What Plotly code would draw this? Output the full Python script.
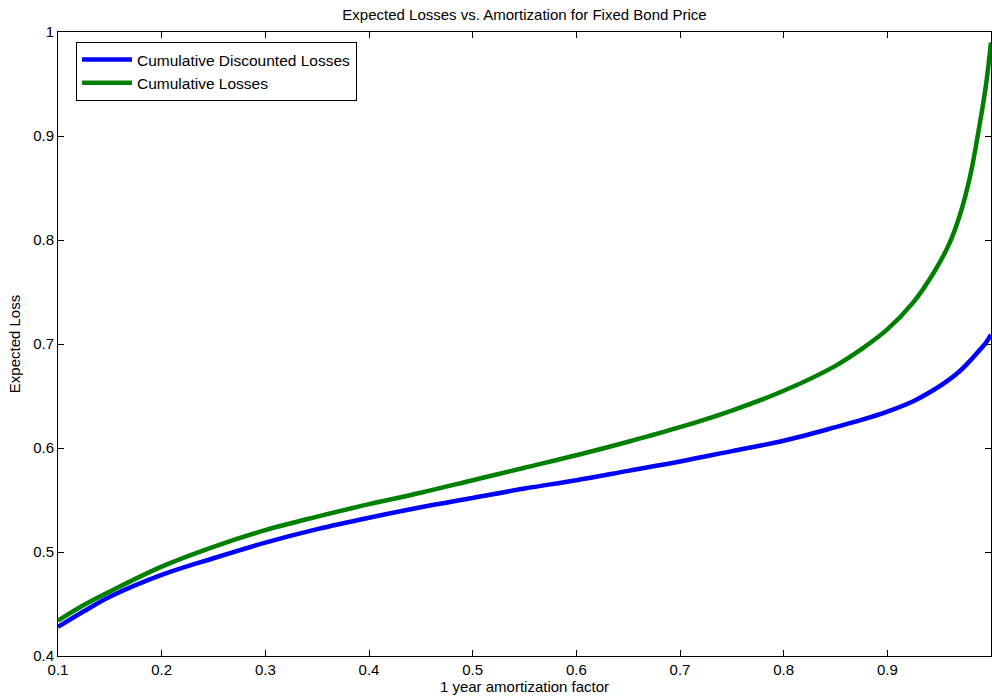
import plotly.graph_objects as go

amort = [0.10, 0.125, 0.15, 0.20, 0.25, 0.30, 0.35, 0.40, 0.45, 0.50, 0.55, 0.60,
         0.65, 0.70, 0.75, 0.80, 0.85, 0.875, 0.90, 0.925, 0.945, 0.96, 0.97,
         0.98, 0.988, 0.995, 1.00]
cum_losses = [0.434, 0.449, 0.462, 0.486, 0.505, 0.521, 0.534, 0.546, 0.557, 0.569,
              0.581, 0.593, 0.606, 0.620, 0.636, 0.655, 0.679, 0.695, 0.714, 0.740,
              0.769, 0.797, 0.824, 0.862, 0.905, 0.948, 0.990]
cum_disc_losses = [0.428, 0.443, 0.457, 0.478, 0.494, 0.509, 0.522, 0.533, 0.543,
                   0.552, 0.561, 0.569, 0.578, 0.587, 0.597, 0.607, 0.620, 0.627,
                   0.635, 0.645, 0.656, 0.666, 0.674, 0.684, 0.693, 0.701, 0.709]

x_ticks = [0.1, 0.2, 0.3, 0.4, 0.5, 0.6, 0.7, 0.8, 0.9]
x_tick_labels = ["0.1", "0.2", "0.3", "0.4", "0.5", "0.6", "0.7", "0.8", "0.9"]
y_ticks = [0.4, 0.5, 0.6, 0.7, 0.8, 0.9, 1.0]
y_tick_labels = ["0.4", "0.5", "0.6", "0.7", "0.8", "0.9", "1"]

FONT = "Liberation Sans, Arial, sans-serif"

fig = go.Figure()
fig.add_trace(go.Scatter(x=amort, y=cum_disc_losses, mode="lines",
                         name="Cumulative Discounted Losses",
                         line=dict(color="#0000ff", width=4.5, shape="spline",
                                   smoothing=1.0)))
fig.add_trace(go.Scatter(x=amort, y=cum_losses, mode="lines",
                         name="Cumulative Losses",
                         line=dict(color="#008000", width=4.5, shape="spline",
                                   smoothing=1.0)))

axis_common = dict(showgrid=False, zeroline=False, showline=True, linecolor="black",
                   linewidth=1, mirror="ticks", ticks="inside", ticklen=6,
                   tickcolor="black", automargin=False,
                   tickfont=dict(size=15, color="black", family=FONT))

fig.update_layout(
    width=992, height=698,
    margin=dict(l=58, r=1, t=32, b=42),
    paper_bgcolor="white", plot_bgcolor="white",
    font=dict(family=FONT, color="black"),
    title=dict(text="Expected Losses vs. Amortization for Fixed Bond Price",
               x=0.5, xanchor="center", xref="paper",
               y=1 - 14.5 / 698, yanchor="middle", yref="container",
               font=dict(size=15, color="black", family=FONT)),
    xaxis=dict(range=[0.1, 1.0], tickvals=x_ticks, ticktext=x_tick_labels,
               title=dict(text="1 year amortization factor", standoff=2,
                          font=dict(size=15, color="black", family=FONT)),
               **axis_common),
    yaxis=dict(range=[0.4, 1.0], tickvals=y_ticks, ticktext=y_tick_labels,
               title=dict(text="Expected Loss", standoff=8,
                          font=dict(size=15, color="black", family=FONT)),
               **axis_common),
    legend=dict(x=0.0193, y=0.984, xanchor="left", yanchor="top",
                bordercolor="black", borderwidth=1, bgcolor="white",
                font=dict(size=15.5, color="black", family=FONT),
                itemwidth=50, tracegroupgap=0),
    showlegend=True,
)

fig.write_html("out.html",
               config={"displayModeBar": False},
               post_script="document.body.style.margin='0px';"
                           "document.body.style.overflow='hidden';")
